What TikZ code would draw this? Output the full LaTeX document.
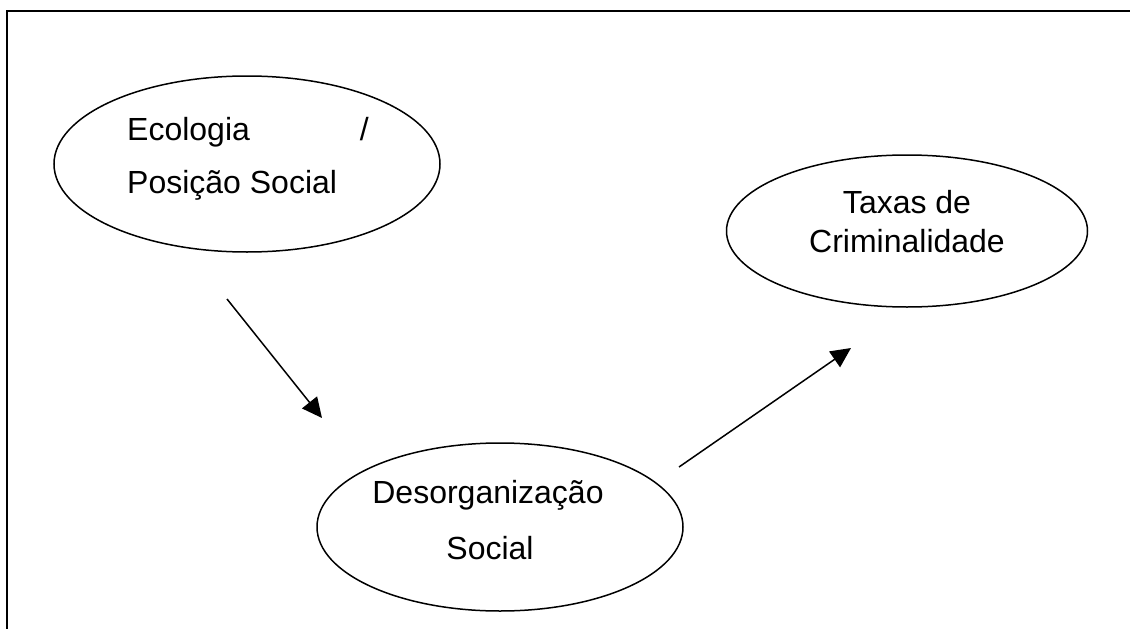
\documentclass[tikz,border=0pt]{standalone}
\usepackage{fontspec}
\setmainfont{Liberation Sans}
\usetikzlibrary{shapes.geometric,arrows.meta}
\begin{document}
\begin{tikzpicture}[x=1pt,y=-1pt,
  bubble/.style={draw,ellipse,line width=1.5pt,inner sep=0pt},
  label/.style={inner sep=0pt,font=\fontsize{32}{38}\selectfont},
  link/.style={line width=1.5pt,-{Triangle[length=20pt,width=19pt]}}]
  \useasboundingbox (0,0) rectangle (1130,629);
  % open frame: left side and top running off the page
  \draw[line width=2pt] (7,629) -- (7,11) -- (1130,11);

  % ellipses
  \node[bubble,minimum width=386pt,minimum height=176pt] (eco) at (247,164) {};
  \node[bubble,minimum width=361pt,minimum height=152pt] (tax) at (907,231) {};
  \node[bubble,minimum width=366pt,minimum height=168pt] (des) at (500,527) {};

  % texts
  \node[label,anchor=base west] (ecoA) at (127,140) {Ecologia};
  \node[label,anchor=base east] (ecoB) at (369,140) {/};
  \node[label,anchor=base west] (ecoC) at (127,193) {Posição Social};
  \node[label,anchor=base] (taxA) at (907,213) {Taxas de};
  \node[label,anchor=base] (taxB) at (907,252) {Criminalidade};
  \node[label,anchor=base] (desA) at (488,503) {Desorganização};
  \node[label,anchor=base] (desB) at (490,559) {Social};

  % arrows
  \coordinate (a1) at (227,299);
  \coordinate (a2) at (322,418);
  \coordinate (b1) at (679,467);
  \coordinate (b2) at (851,348);
  \draw[link] (a1) -- (a2);
  \draw[link] (b1) -- (b2);
\end{tikzpicture}
\end{document}
